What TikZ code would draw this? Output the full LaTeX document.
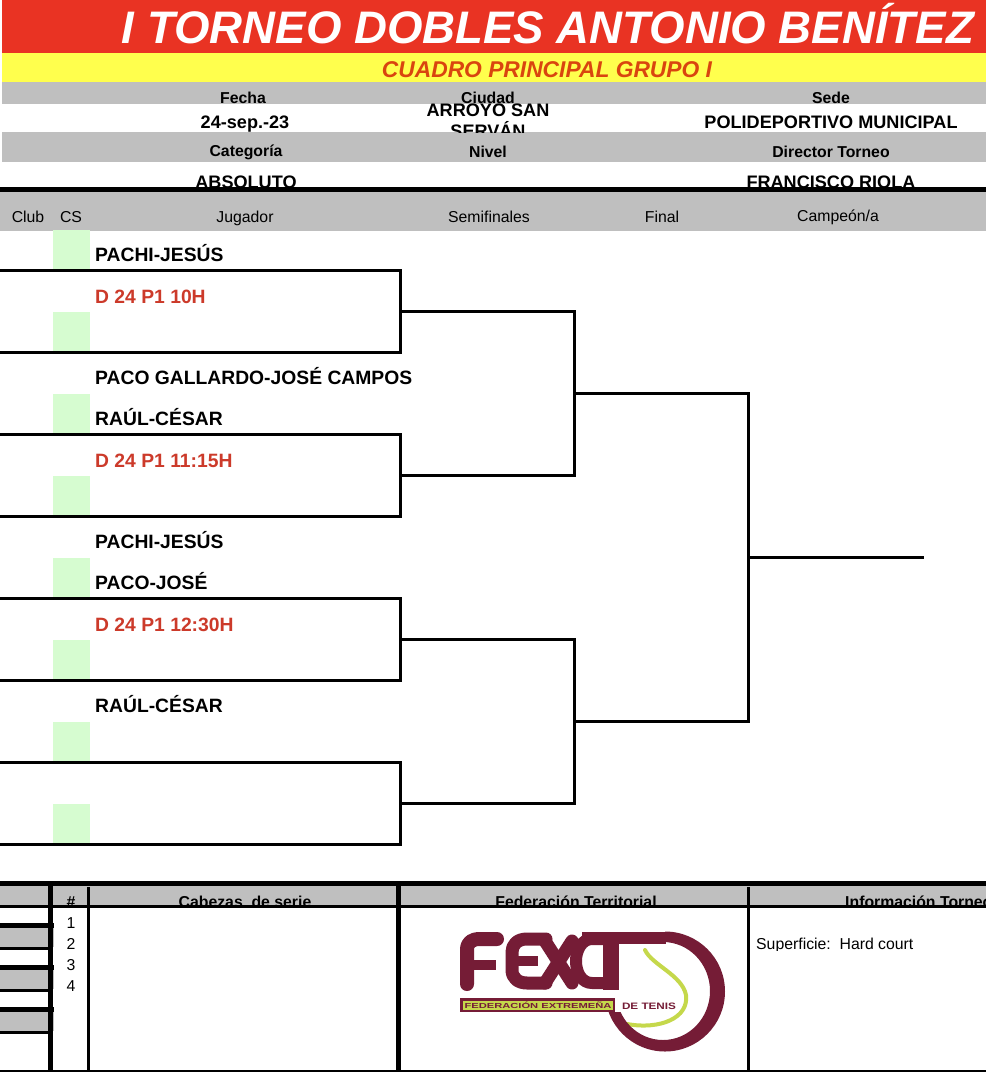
\documentclass[tikz,border=0pt]{standalone}
\usepackage{fontspec}
\setmainfont{Liberation Sans}
\definecolor{redbar}{HTML}{E93323}
\definecolor{yellowbar}{HTML}{FFFF4D}
\definecolor{greybar}{HTML}{BFBFBF}
\definecolor{seedgreen}{HTML}{D6FCD0}
\definecolor{subtitle}{HTML}{D9450F}
\definecolor{matchred}{HTML}{CC3A2A}
\definecolor{fextred}{HTML}{751C36}
\definecolor{fextgreen}{HTML}{C5D84B}
\tikzset{
  x=1pt,y=-1pt,
  line/.style={line width=3pt,line cap=butt,line join=miter},
  head/.style={font=\fontsize{15.8}{17}\selectfont\bfseries,inner sep=0pt,anchor=base},
  value/.style={font=\fontsize{18.1}{20}\selectfont\bfseries,inner sep=0pt,anchor=base},
  col/.style={font=\fontsize{15.8}{17}\selectfont,inner sep=0pt,anchor=base},
  player/.style={font=\fontsize{19.3}{21}\selectfont\bfseries,inner sep=0pt,anchor=base west},
  match/.style={font=\fontsize{19.3}{21}\selectfont\bfseries,text=matchred,inner sep=0pt,anchor=base west},
  fext/.style={draw=fextred,line cap=round,line join=round},
}
\begin{document}
\begin{tikzpicture}
\useasboundingbox (0,0) rectangle (986,1072);
\fill[white] (0,0) rectangle (986,1072);
% bands
\fill[redbar] (2,0) rectangle (986,53);
\fill[yellowbar] (2,53) rectangle (986,82);
\fill[greybar] (2,82) rectangle (986,104);
\fill[greybar] (2,132) rectangle (986,162);
\fill[greybar] (0,191) rectangle (986,231);
% titles
\node[inner sep=0pt,anchor=base,text=white,font=\fontsize{45.6}{50}\selectfont\bfseries\itshape] (title) at (548,43) {I TORNEO DOBLES ANTONIO BENÍTEZ};
\node[inner sep=0pt,anchor=base,text=subtitle,font=\fontsize{22.8}{25}\selectfont\bfseries\itshape] (subt) at (547,77) {CUADRO PRINCIPAL GRUPO I};
% info
\node[head] (fecha) at (243,103) {Fecha};
\node[head] (ciudad) at (488,103) {Ciudad};
\node[head] (sede) at (831,103) {Sede};
\node[value] (date) at (245,128) {24-sep.-23};
\node[value] (sedev) at (831,128) {POLIDEPORTIVO MUNICIPAL};
\begin{scope}
\clip (400,95) rectangle (600,132);
\node[value] (city1) at (488,116) {ARROYO SAN};
\node[value] (city2) at (488,137) {SERVÁN};
\end{scope}
\node[head] (cat) at (246,156) {Categoría};
\node[head] (nivel) at (488,157) {Nivel};
\node[head] (dir) at (831,157) {Director Torneo};
\begin{scope}
\clip (0,162) rectangle (986,187);
\node[value] (abs) at (246,188) {ABSOLUTO};
\node[value] (riola) at (831,188) {FRANCISCO RIOLA};
\end{scope}
\fill[black] (0,187) rectangle (986,192);
% column heads
\node[col] (club) at (28,222) {Club};
\node[col] (cs) at (71,222) {CS};
\node[col] (jug) at (245,222) {Jugador};
\node[col] (semi) at (489,222) {Semifinales};
\node[col] (final) at (662,222) {Final};
\node[col] (camp) at (838,221) {Campeón/a};
% seed boxes
\foreach \y in {230,312,394,476,558,640,722,804}
  \fill[seedgreen] (53,\y) rectangle (90,\y+40);
% players
\node[player] (p1) at (95,261) {PACHI-JESÚS};
\node[match] (m1) at (95,303) {D 24 P1 10H};
\node[player] (p2) at (95,384) {PACO GALLARDO-JOSÉ CAMPOS};
\node[player] (p3) at (95,425) {RAÚL-CÉSAR};
\node[match] (m2) at (95,467) {D 24 P1 11:15H};
\node[player] (p4) at (95,548) {PACHI-JESÚS};
\node[player] (p5) at (95,589) {PACO-JOSÉ};
\node[match] (m3) at (95,631) {D 24 P1 12:30H};
\node[player] (p6) at (95,712) {RAÚL-CÉSAR};
% bracket joints
\coordinate (a1) at (0,270.5); \coordinate (a1r) at (400.5,270.5);
\coordinate (a2) at (0,352.5); \coordinate (a2r) at (400.5,352.5);
\coordinate (b1) at (0,434.5); \coordinate (b1r) at (400.5,434.5);
\coordinate (b2) at (0,516.5); \coordinate (b2r) at (400.5,516.5);
\coordinate (c1) at (0,598.5); \coordinate (c1r) at (400.5,598.5);
\coordinate (c2) at (0,680.5); \coordinate (c2r) at (400.5,680.5);
\coordinate (d1) at (0,762.5); \coordinate (d1r) at (400.5,762.5);
\coordinate (d2) at (0,844.5); \coordinate (d2r) at (400.5,844.5);
\coordinate (sa) at (400.5,311.5); \coordinate (sb) at (400.5,475.5);
\coordinate (sc) at (400.5,639.5); \coordinate (sd) at (400.5,803.5);
\coordinate (ta) at (574.5,311.5); \coordinate (tb) at (574.5,475.5);
\coordinate (tc) at (574.5,639.5); \coordinate (td) at (574.5,803.5);
\coordinate (fa) at (574.5,393.5); \coordinate (fb) at (574.5,721.5);
\coordinate (ga) at (748.5,393.5); \coordinate (gb) at (748.5,721.5);
\coordinate (w) at (748.5,557.5); \coordinate (we) at (924,557.5);
\draw[line] (a1) -- (a1r) -- (a2r) -- (a2);
\draw[line] (b1) -- (b1r) -- (b2r) -- (b2);
\draw[line] (c1) -- (c1r) -- (c2r) -- (c2);
\draw[line] (d1) -- (d1r) -- (d2r) -- (d2);
\draw[line] (sa) -- (ta) -- (tb) -- (sb);
\draw[line] (sc) -- (tc) -- (td) -- (sd);
\draw[line] (fa) -- (ga) -- (gb) -- (fb);
\draw[line] (w) -- (we);
% bottom table
\fill[greybar] (0,886) rectangle (986,906);
\begin{scope}
\clip (0,886) rectangle (986,905);
\node[head] (hash) at (71,907) {\#};
\node[head] (cab) at (245,907) {Cabezas\ \ de serie};
\node[head] (fed) at (576,907) {Federación Territorial};
\node[head,anchor=base west] (info) at (845,907) {Información Torneo};
\end{scope}
\fill[greybar] (0,928) rectangle (54,947);
\fill[greybar] (0,970) rectangle (54,989);
\fill[greybar] (0,1012) rectangle (54,1031);
\fill[black] (0,881) rectangle (986,886);
\fill[black] (0,905) rectangle (986,908);
\fill[black] (0,1070) rectangle (986,1072);
\fill[black] (48,886) rectangle (53,1072);
\fill[black] (87,887) rectangle (90,1072);
\fill[black] (396,886) rectangle (401,1072);
\fill[black] (747,887) rectangle (749.5,1072);
\foreach \y in {923,965,1007} \fill[black] (0,\y) rectangle (54,\y+5);
\foreach \y in {947,989,1031} \fill[black] (0,\y) rectangle (48,\y+3);
\node[col] (n1) at (71,928) {1};
\node[col] (n2) at (71,949) {2};
\node[col] (n3) at (71,970) {3};
\node[col] (n4) at (71,991) {4};
\begin{scope}
\clip (750,930) rectangle (986,950);
\node[col,anchor=base west] (sup) at (756,949) {Superficie:\ \ Hard court};
\end{scope}
% logo: tennis ball seam
\draw[draw=fextgreen,line width=4pt,line cap=round] (645,950) .. controls (652,965) and (682,975) .. (686,995) .. controls (689,1018) and (660,1030) .. (627,1024);
% logo: ring
\begin{scope}
\clip (665,925) rectangle (730,1056) (600,1012) rectangle (666,1056);
\fill[fextred,even odd rule] (665,991.5) circle[radius=60] (663,991) ellipse[x radius=47,y radius=49];
\end{scope}
% logo: letters
\draw[fext,line width=12pt,line cap=butt] (582,938) -- (666,938);
\draw[fext,line width=14pt] (467,984) -- (467,950) .. controls (467,942) and (472,939) .. (480,939) -- (497,939);
\draw[fext,line width=10pt,line cap=butt] (467,965) -- (496,965);
\draw[fext,line width=13pt] (546,939) -- (527,939) .. controls (517,939) and (512,945) .. (512,952) -- (512,970) .. controls (512,978) and (518,983) .. (527,983) -- (546,983);
\draw[fext,line width=10pt,line cap=butt] (514,961) -- (538,961);
\draw[fext,line width=13pt] (545,941) -- (572,983);
\draw[fext,line width=13pt] (545,983) -- (572,941);
\draw[fext,line width=12pt] (604,939) -- (592,939) .. controls (582,939) and (576,950) .. (576,961) .. controls (576,973) and (582,983) .. (592,983) -- (604,983);
\draw[fext,line width=16pt,line cap=butt] (611,937) -- (611,990);
% logo: banner
\fill[fextred] (460,998) rectangle (615,1012);
\fill[fextgreen] (463,1001) rectangle (613,1010);
\node[inner sep=0pt,text=fextred,font=\bfseries] (fedx) at (538,1005.5) {\resizebox{147pt}{6.5pt}{FEDERACIÓN EXTREMEÑA}};
\node[inner sep=0pt,text=fextred,font=\bfseries] (tenis) at (649,1006.5) {\resizebox{54pt}{6.5pt}{DE TENIS}};
\end{tikzpicture}
\end{document}
